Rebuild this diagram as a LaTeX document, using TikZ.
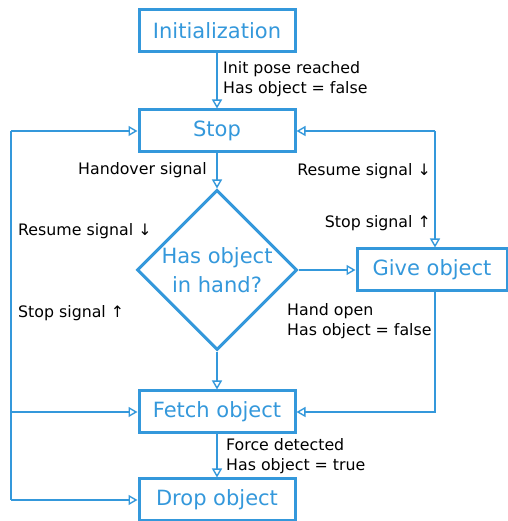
\documentclass[tikz,border=0pt]{standalone}
\usepackage{fontspec}
\setmainfont{DejaVu Sans}
\usetikzlibrary{shapes.geometric,arrows.meta}
\definecolor{fblue}{HTML}{3498DB}
\begin{document}
\begin{tikzpicture}[x=1pt,y=1pt,
  statebox/.style={draw=fblue,line width=3pt,text=fblue,minimum width=156pt,minimum height=42pt,inner sep=0pt,font=\fontsize{21}{25}\selectfont},
  decision/.style={draw=fblue,line width=3pt,text=fblue,shape=diamond,aspect=1,minimum width=160pt,minimum height=160pt,inner sep=0pt,align=center,font=\fontsize{21}{29}\selectfont},
  conn/.style={draw=fblue,line width=1.4pt},
  arr/.style={conn,-{Triangle[open,length=9pt,width=10pt]}},
  lbl/.style={inner sep=0pt,align=left,font=\fontsize{15.8}{20}\selectfont,text=black}]
\useasboundingbox (0,0) rectangle (507,521);
\node[statebox] (init) at (217,490) {Initialization};
\node[statebox] (stop) at (217,390) {Stop};
\node[decision] (dia) at (217,251) {Has object\\in hand?};
\node[statebox,minimum width=150pt] (give) at (432,251) {Give object};
\node[statebox] (fetch) at (217,109) {Fetch object};
\node[statebox] (drop) at (217,21) {Drop object};
\coordinate (L1) at (11,390);
\coordinate (L2) at (11,109);
\coordinate (L3) at (11,21);
\coordinate (R1) at (435,390);
% vertical flow
\draw[arr] (init) -- (stop);
\draw[arr] (stop) -- (dia);
\draw[arr] (dia) -- (fetch);
\draw[arr] (fetch) -- (drop);
\draw[arr] (dia) -- (give);
% left loop
\draw[conn] (L1) -- (L3);
\draw[arr] (L1) -- (stop.west);
\draw[arr] (L2) -- (fetch.west);
\draw[arr] (L3) -- (drop.west);
% right loop
\draw[arr] (R1) -- (stop.east);
\draw[arr] (R1) -- (R1 |- give.north);
\draw[arr] (R1 |- give.south) -- (R1 |- fetch.east) -- (fetch.east);
% labels
\node[lbl,anchor=north west] (l1) at (223,460) {Init pose reached\\Has object = false};
\node[lbl,anchor=north east] (l2) at (207,359) {Handover signal};
\node[lbl,anchor=north east] (l3) at (431,358) {Resume signal ↓};
\node[lbl,anchor=north east] (l4) at (431,306) {Stop signal ↑};
\node[lbl,anchor=north west] (l5) at (18,298) {Resume signal ↓};
\node[lbl,anchor=north west] (l6) at (18,216) {Stop signal ↑};
\node[lbl,anchor=north west] (l7) at (287,218) {Hand open\\Has object = false};
\node[lbl,anchor=north west] (l8) at (226,83) {Force detected\\Has object = true};
\end{tikzpicture}
\end{document}
